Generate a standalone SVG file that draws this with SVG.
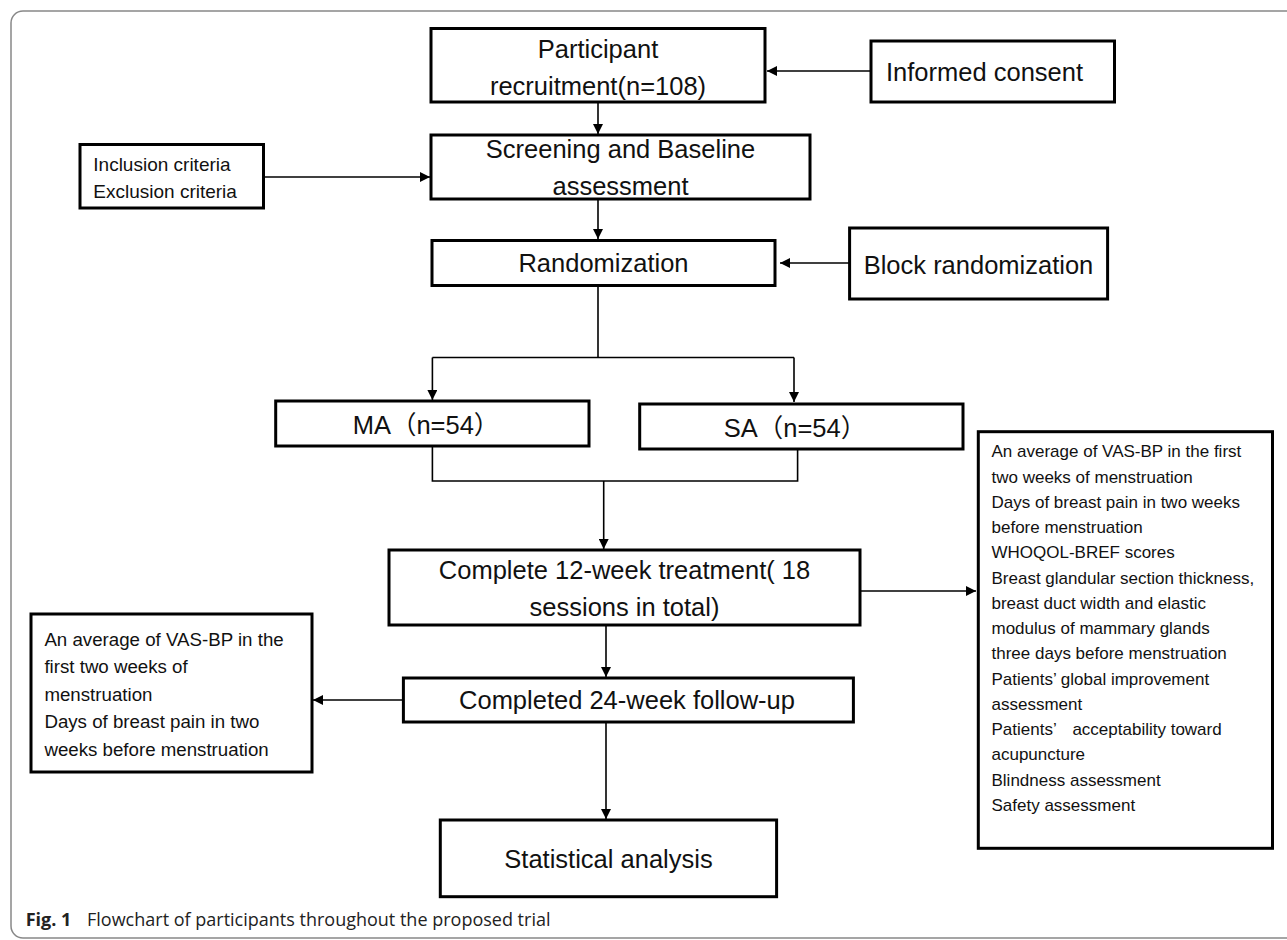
<svg xmlns="http://www.w3.org/2000/svg" width="1287" height="940" viewBox="0 0 1287 940">
<style>
.box{fill:#fff;stroke:#000;stroke-width:3}
.t{font-family:"Liberation Sans",Arial,"Noto Sans CJK SC",sans-serif;fill:#111}
.m{font-size:25.5px;text-anchor:middle}
.s{font-size:17px}
.l{font-size:18.7px}
.c{stroke:#000;stroke-width:1.6;fill:none}
.a{marker-end:url(#ah)}
.cap{font-family:"Open Sans","Liberation Sans",sans-serif;font-size:18px;fill:#222}
</style>
<defs>
<marker id="ah" markerUnits="userSpaceOnUse" markerWidth="11" markerHeight="10" refX="10" refY="5" orient="auto">
<path d="M0,0 L10,5 L0,10 z" fill="#000"/>
</marker>
</defs>
<rect width="1287" height="940" fill="#fff"/>
<path d="M1300,11 H23 A12,12 0 0 0 11,23 V926 A12,12 0 0 0 23,938 H1300" fill="none" stroke="#888" stroke-width="1.5"/>

<g id="connectors">
<line class="c a" x1="871" y1="71" x2="767" y2="71"/>
<line class="c a" x1="598" y1="102" x2="598" y2="134"/>
<line class="c a" x1="264" y1="177" x2="430" y2="177"/>
<line class="c a" x1="598" y1="199" x2="598" y2="239"/>
<line class="c a" x1="849" y1="263" x2="780" y2="263"/>
<polyline class="c" points="598,285 598,357.5"/>
<polyline class="c" points="432.4,357.5 794,357.5"/>
<line class="c a" x1="432.4" y1="357.5" x2="432.4" y2="400"/>
<line class="c a" x1="794" y1="357.5" x2="794" y2="402"/>
<polyline class="c" points="432.4,446 432.4,481 797.6,481 797.6,449"/>
<line class="c a" x1="603.7" y1="481" x2="603.7" y2="549"/>
<line class="c a" x1="860" y1="591" x2="976" y2="591"/>
<line class="c a" x1="606" y1="625" x2="606" y2="677"/>
<line class="c a" x1="403" y1="700" x2="313" y2="700"/>
<line class="c a" x1="606" y1="722" x2="606" y2="819"/>
</g>

<g id="recruitment">
<rect class="box" x="431" y="28.5" width="334" height="73.5"/>
<text class="t m" x="598" y="57.5">Participant</text>
<text class="t m" x="598" y="94.5">recruitment(n=108)</text>
</g>
<g id="consent">
<rect class="box" x="871" y="41" width="243.5" height="61"/>
<text class="t m" x="984.5" y="81">Informed consent</text>
</g>
<g id="criteria">
<rect class="box" x="80" y="144.5" width="183.5" height="63.5"/>
<text class="t" x="93.3" y="170.7" font-size="19">Inclusion criteria</text>
<text class="t" x="93.3" y="198.3" font-size="19">Exclusion criteria</text>
</g>
<g id="screening">
<rect class="box" x="431" y="135" width="379" height="64"/>
<text class="t m" x="620.5" y="158" font-size="24.5">Screening and Baseline</text>
<text class="t m" x="620.5" y="195" font-size="24.5">assessment</text>
</g>
<g id="randomization">
<rect class="box" x="432" y="240.5" width="343" height="45"/>
<text class="t m" x="603.5" y="271.7">Randomization</text>
</g>
<g id="block">
<rect class="box" x="849.6" y="228" width="258" height="71"/>
<text class="t m" x="978.5" y="274">Block randomization</text>
</g>
<g id="ma">
<rect class="box" x="275.7" y="401" width="313.3" height="45"/>
<text class="t m" x="426" y="434.3">MA（n=54）</text>
</g>
<g id="sa">
<rect class="box" x="639.7" y="404" width="323.3" height="45"/>
<text class="t m" x="795" y="437.3">SA（n=54）</text>
</g>
<g id="treatment">
<rect class="box" x="389" y="550" width="471" height="75"/>
<text class="t m" x="624.5" y="579.3">Complete 12-week treatment( 18</text>
<text class="t m" x="624.5" y="616">sessions in total)</text>
</g>
<g id="outcomes">
<rect class="box" x="978.3" y="431.7" width="294.2" height="416.6"/>
<text class="t s" x="991.5" y="457.3">An average of VAS-BP in the first</text>
<text class="t s" x="991.5" y="482.5">two weeks of menstruation</text>
<text class="t s" x="991.5" y="507.8">Days of breast pain in two weeks</text>
<text class="t s" x="991.5" y="533">before menstruation</text>
<text class="t s" x="991.5" y="558.3">WHOQOL-BREF scores</text>
<text class="t s" x="991.5" y="583.5">Breast glandular section thickness,</text>
<text class="t s" x="991.5" y="608.8">breast duct width and elastic</text>
<text class="t s" x="991.5" y="634">modulus of mammary glands</text>
<text class="t s" x="991.5" y="659.3">three days before menstruation</text>
<text class="t s" x="991.5" y="684.5">Patients’ global improvement</text>
<text class="t s" x="991.5" y="709.8">assessment</text>
<text class="t s" x="991.5" y="735">Patients’<tspan x="1072.4">acceptability toward</tspan></text>
<text class="t s" x="991.5" y="760.3">acupuncture</text>
<text class="t s" x="991.5" y="785.5">Blindness assessment</text>
<text class="t s" x="991.5" y="810.8">Safety assessment</text>
</g>
<g id="followup-outcomes">
<rect class="box" x="31" y="614" width="281" height="158"/>
<text class="t l" x="44.4" y="645.5">An average of VAS-BP in the</text>
<text class="t l" x="44.4" y="673.1">first two weeks of</text>
<text class="t l" x="44.4" y="700.7">menstruation</text>
<text class="t l" x="44.4" y="728.3">Days of breast pain in two</text>
<text class="t l" x="44.4" y="755.9">weeks before menstruation</text>
</g>
<g id="followup">
<rect class="box" x="403.4" y="678" width="450" height="44"/>
<text class="t m" x="627" y="709.3">Completed 24-week follow-up</text>
</g>
<g id="analysis">
<rect class="box" x="440.3" y="820" width="336.3" height="76.7"/>
<text class="t m" x="608.5" y="868.3" font-size="24.4">Statistical analysis</text>
</g>
<g id="caption">
<text class="cap" x="25.7" y="926" font-weight="bold">Fig. 1</text>
<text class="cap" x="87" y="926">Flowchart of participants throughout the proposed trial</text>
</g>
</svg>
